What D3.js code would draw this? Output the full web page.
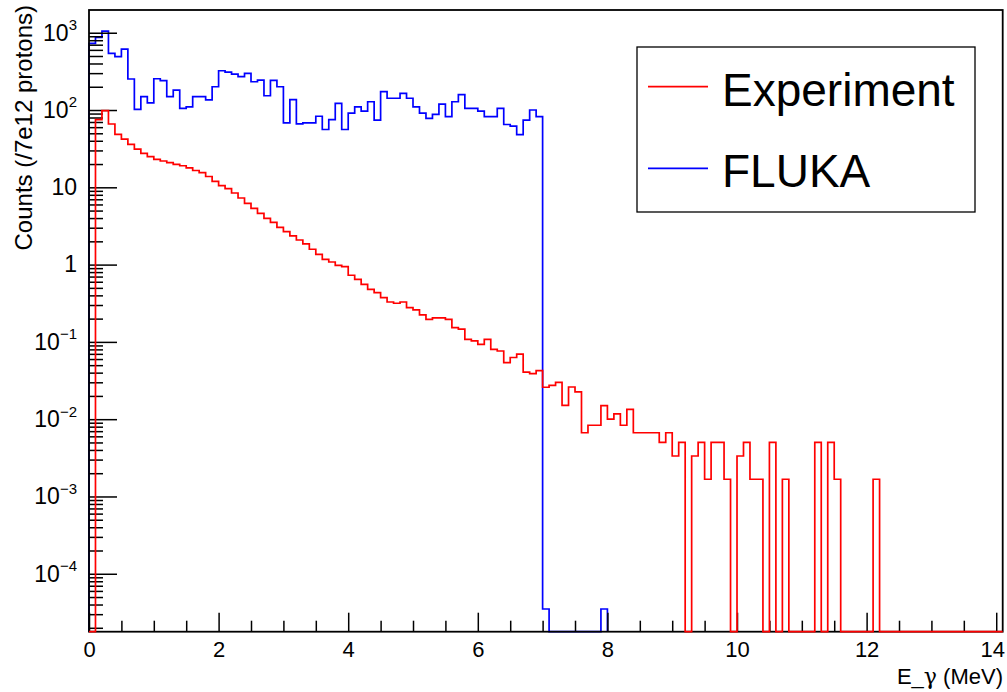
<!DOCTYPE html>
<html>
<head>
<meta charset="utf-8">
<title>gamma spectrum</title>
<script src="https://cdnjs.cloudflare.com/ajax/libs/d3/7.8.5/d3.min.js"></script>
</head>
<style>
  body { margin: 0; background: #fff; }
  svg { display: block; font-family: "Liberation Sans", Arial, Helvetica, sans-serif; }
</style>
<body>
<svg id="svg" width="1007" height="692"></svg>
<script>
  // 0.1 MeV bins, first bin starts at 0
  const binWidth = 0.1;

  const experiment = [
    0, 74.9, 98, 65.9, 48.5, 41.9, 36.0, 31.1, 27.5, 24.9,
    23.0, 21.9, 20.8, 19.8, 19.0, 17.8, 16.5, 15.5, 13.8, 11.9,
    10.5, 9.64, 8.44, 7.27, 6.21, 5.35, 4.61, 3.97, 3.52, 3.04,
    2.67, 2.35, 2.08, 1.85, 1.58, 1.36, 1.17, 1.08, 0.98, 0.94,
    0.728, 0.645, 0.556, 0.479, 0.433, 0.373, 0.328, 0.316, 0.328, 0.277,
    0.259, 0.223, 0.196, 0.204, 0.204, 0.196, 0.153, 0.146, 0.108, 0.103,
    0.0931, 0.108, 0.0802, 0.0762, 0.0538, 0.0628, 0.0693, 0.0406, 0.0388, 0.0424,
    0.0259, 0.0273, 0.0300, 0.0151, 0.0261, 0.0225, 0.00668, 0.00835, 0.00835, 0.0150,
    0.0100, 0.0117, 0.00835, 0.0134, 0.00668, 0.00668, 0.00668, 0.00668, 0.00501, 0.00668,
    0.00334, 0.00501, 0, 0.00334, 0.00501, 0.00167, 0.00501, 0.00501, 0.00167, 0,
    0.00334, 0.00501, 0.00167, 0.00167, 0, 0.00501, 0, 0.00167, 0, 0,
    0, 0, 0.00501, 0, 0.00501, 0.00167, 0, 0, 0, 0,
    0, 0.00167, 0, 0, 0, 0, 0, 0, 0, 0,
    0, 0, 0, 0, 0, 0, 0, 0, 0, 0,
    0
  ];

  const fluka = [
    730, 870, 1050, 541, 490, 615, 252, 102, 149, 124,
    254, 240, 149, 181, 105, 110, 149, 149, 135, 200,
    322, 310, 292, 270, 298, 232, 244, 153, 242, 200,
    68, 136, 66, 68, 68, 83, 56, 75, 122, 56,
    91, 110, 97, 128, 74, 173, 142, 142, 164, 142,
    110, 91, 78, 88, 119, 82, 128, 158, 105, 105,
    97, 82, 82, 105, 65, 62, 48, 74, 100, 82,
    3.5e-5, 0, 0, 0, 0, 0, 0, 0, 0, 3.5e-5
  ];

  const xTicks = [0, 2, 4, 6, 8, 10, 12, 14];
  const yTicks = [1e-4, 1e-3, 1e-2, 1e-1, 1, 10, 1e2, 1e3];
  const yTickLabels = [["10", "−4"], ["10", "−3"], ["10", "−2"], ["10", "−1"], ["1", ""], ["10", ""], ["10", "2"], ["10", "3"]];
  const seriesNames = ["Experiment", "FLUKA"];
  const seriesColors = ["#ff0000", "#0000ff"];

  const padL = 89, padR = 1002.7, padT = 10, padB = 631.7;
  const x = d3.scaleLinear().domain([0, 14.1]).range([padL, padR]);
  const y = d3.scaleLog().domain([1.78e-5, 1968]).range([padB, padT]);

  const svg = d3.select('#svg');

  function stepPath(values) {
    const yPx = v => v > 0 ? y(v) : padB;
    const pts = [[x(0), padB]];
    values.forEach((v, i) => {
      pts.push([x(i * binWidth), yPx(v)]);
      pts.push([x((i + 1) * binWidth), yPx(v)]);
    });
    pts.push([x(values.length * binWidth), padB]);
    return d3.line()(pts);
  }

  // FLUKA goes under the axes, experiment on top
  svg.append('path')
    .attr('d', stepPath(fluka))
    .attr('fill', 'none')
    .attr('stroke', seriesColors[1])
    .attr('stroke-width', 1.7);

  // minor ticks
  const yMinor = [];
  for (let e = -5; e <= 3; e++) {
    for (let m = 2; m <= 9; m++) {
      const v = m * Math.pow(10, e);
      if (v >= y.domain()[0] && v <= y.domain()[1]) yMinor.push(v);
    }
  }
  const xMinor = d3.range(0.5, 14.01, 0.5).filter(d => d % 2 !== 0);

  svg.append('g').attr('transform', `translate(${padL},0)`)
    .call(d3.axisLeft(y).tickValues(yMinor).tickSize(-14).tickFormat(''))
    .call(g => g.select('.domain').remove());

  const yAxisG = svg.append('g').attr('transform', `translate(${padL},0)`)
    .call(d3.axisLeft(y).tickValues(yTicks).tickSize(-28).tickPadding(12))
    .call(g => g.select('.domain').remove());

  yAxisG.selectAll('.tick text')
    .attr('font-size', 23)
    .attr('font-family', null)
    .each(function (d, i) {
      const t = d3.select(this).text(null);
      const lab = yTickLabels[i];
      t.append('tspan').text(lab[0]);
      if (lab[1]) {
        t.append('tspan').attr('font-size', 15).attr('dy', '-0.7em').text(lab[1]);
      }
    });

  svg.append('g').attr('transform', `translate(0,${padB})`)
    .call(d3.axisBottom(x).tickValues(xMinor).tickSize(-11).tickFormat(''))
    .call(g => g.select('.domain').remove());

  svg.append('g').attr('transform', `translate(0,${padB})`)
    .call(d3.axisBottom(x).tickValues(xTicks).tickSize(-19).tickPadding(10))
    .call(g => g.select('.domain').remove())
    .call(g => g.selectAll('.tick text').attr('font-size', 22).attr('font-family', null)
      .attr('dx', d => d === 14 ? -4 : 0));

  svg.selectAll('.tick line').attr('stroke', '#000').attr('stroke-width', 1.5);

  // frame
  svg.append('rect')
    .attr('x', padL).attr('y', padT)
    .attr('width', padR - padL).attr('height', padB - padT)
    .attr('fill', 'none').attr('stroke', '#000').attr('stroke-width', 1.8);

  svg.append('path')
    .attr('d', stepPath(experiment))
    .attr('fill', 'none')
    .attr('stroke', seriesColors[0])
    .attr('stroke-width', 1.7);

  // axis titles
  const xTitle = svg.append('text')
    .attr('x', 1003).attr('y', 684)
    .attr('text-anchor', 'end')
    .attr('font-size', 22);
  xTitle.append('tspan').text('E_');
  xTitle.append('tspan').attr('font-family', '"DejaVu Serif", serif').text('γ');
  xTitle.append('tspan').text(' (MeV)');

  svg.append('text')
    .attr('transform', 'translate(32,5) rotate(-90)')
    .attr('text-anchor', 'end')
    .attr('font-size', 24)
    .text('Counts (/7e12 protons)');

  // legend
  const legend = svg.append('g');
  legend.append('rect')
    .attr('x', 637).attr('y', 47).attr('width', 338).attr('height', 165)
    .attr('fill', '#fff').attr('stroke', '#000').attr('stroke-width', 1.3);

  const legendY = [86.7, 168.3];
  seriesNames.forEach((name, i) => {
    legend.append('line')
      .attr('x1', 648).attr('x2', 708)
      .attr('y1', legendY[i]).attr('y2', legendY[i])
      .attr('stroke', seriesColors[i]).attr('stroke-width', 1.7);
    legend.append('text')
      .attr('x', 722).attr('y', legendY[i] + 19)
      .attr('font-size', 46)
      .text(name);
  });
</script>
</body>
</html>
